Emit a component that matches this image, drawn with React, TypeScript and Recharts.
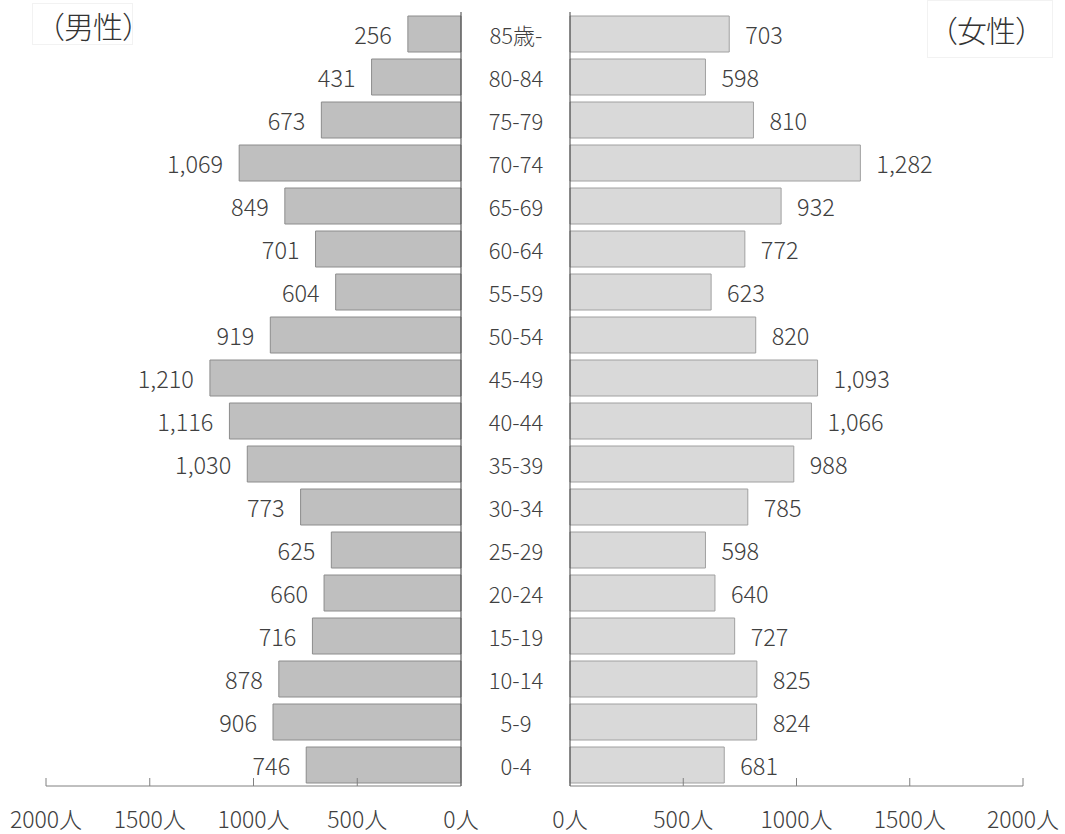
import React from 'react';
import { BarChart, Bar, XAxis, YAxis, LabelList } from 'recharts';

const ageGroups = ['85歳-', '80-84', '75-79', '70-74', '65-69', '60-64', '55-59', '50-54', '45-49', '40-44', '35-39', '30-34', '25-29', '20-24', '15-19', '10-14', '5-9', '0-4'];
const male = [256, 431, 673, 1069, 849, 701, 604, 919, 1210, 1116, 1030, 773, 625, 660, 716, 878, 906, 746];
const female = [703, 598, 810, 1282, 932, 772, 623, 820, 1093, 1066, 988, 785, 598, 640, 727, 825, 824, 681];
const axisTicks = [0, 500, 1000, 1500, 2000];

const data = ageGroups.map((age, i) => ({ age, male: male[i], female: female[i] }));

const FONT = '"Noto Sans CJK JP", "Noto Sans", sans-serif';
const TEXT = '#404040';
const AXIS = '#808080';

const fmt = (v: number) => v.toLocaleString('en-US');

function AxisTick(props: any) {
  const { x, y, payload } = props;
  return (
    <g>
      <line x1={x} x2={x} y1={y - 8} y2={y} stroke={AXIS} strokeWidth={1} />
      <text x={x} y={y + 42} textAnchor="middle" fontSize={23} fontWeight={300} fill={TEXT} fontFamily={FONT}>
        {payload.value}人
      </text>
    </g>
  );
}

function AgeTick(props: any) {
  const { x, y, payload } = props;
  return (
    <text x={x - 54} y={y} textAnchor="middle" dominantBaseline="central" fontSize={22} fontWeight={300} fill={TEXT} fontFamily={FONT}>
      {payload.value}
    </text>
  );
}

function LeftLabel(props: any) {
  const { x, y, width, height, value } = props;
  const left = Math.min(x, x + width);
  return (
    <text x={left - 16} y={y + height / 2} textAnchor="end" dominantBaseline="central" fontSize={23.5} fontWeight={300} fill={TEXT} fontFamily={FONT}>
      {fmt(value)}
    </text>
  );
}

function RightLabel(props: any) {
  const { x, y, width, height, value } = props;
  const right = Math.max(x, x + width);
  return (
    <text x={right + 16} y={y + height / 2} textAnchor="start" dominantBaseline="central" fontSize={23.5} fontWeight={300} fill={TEXT} fontFamily={FONT}>
      {fmt(value)}
    </text>
  );
}

const titleStyle: React.CSSProperties = {
  position: 'absolute',
  fontSize: 30,
  fontWeight: 300,
  letterSpacing: -1,
  color: '#333',
  lineHeight: '40px',
  whiteSpace: 'nowrap',
};

export default function App() {
  return (
    <div style={{ position: 'absolute', left: 0, top: 0, width: 1065, height: 834, background: '#fff', fontFamily: FONT }}>
      <div style={{ position: 'absolute', left: 32, top: 3, width: 101, height: 42, border: '1px solid #f2f2f2', boxSizing: 'border-box' }} />
      <div style={{ position: 'absolute', left: 927, top: 0, width: 126, height: 58, border: '1px solid #f2f2f2', boxSizing: 'border-box' }} />
      <div style={{ position: 'absolute', left: 0, top: 0 }}>
        <BarChart width={490} height={834} data={data} layout="vertical" margin={{ top: 12, right: 20, bottom: 0, left: 46 }}>
          <XAxis
            type="number"
            domain={[0, 2000]}
            ticks={axisTicks}
            interval={0}
            reversed
            height={48}
            tickSize={0}
            tickMargin={0}
            tickLine={false}
            axisLine={{ stroke: AXIS }}
            tick={<AxisTick />}
          />
          <YAxis type="category" dataKey="age" orientation="right" width={9} tick={false} tickLine={false} axisLine={{ stroke: '#404040' }} />
          <Bar dataKey="male" fill="#BFBFBF" stroke="#8C8C8C" strokeWidth={1} barSize={36} isAnimationActive={false}>
            <LabelList dataKey="male" content={<LeftLabel />} />
          </Bar>
        </BarChart>
      </div>
      <div style={{ position: 'absolute', left: 470, top: 0 }}>
        <BarChart width={595} height={834} data={data} layout="vertical" margin={{ top: 12, right: 42, bottom: 0, left: 0 }}>
          <XAxis
            type="number"
            domain={[0, 2000]}
            ticks={axisTicks}
            interval={0}
            height={48}
            tickSize={0}
            tickMargin={0}
            tickLine={false}
            axisLine={{ stroke: AXIS }}
            tick={<AxisTick />}
          />
          <YAxis type="category" dataKey="age" width={100} tickSize={0} tickMargin={0} tickLine={false} interval={0} axisLine={{ stroke: '#404040' }} tick={<AgeTick />} />
          <Bar dataKey="female" fill="#D9D9D9" stroke="#A0A0A0" strokeWidth={1} barSize={36} isAnimationActive={false}>
            <LabelList dataKey="female" content={<RightLabel />} />
          </Bar>
        </BarChart>
      </div>
      <div style={{ ...titleStyle, left: 35, top: 5 }}>（男性）</div>
      <div style={{ ...titleStyle, left: 928, top: 9 }}>（女性）</div>
    </div>
  );
}
